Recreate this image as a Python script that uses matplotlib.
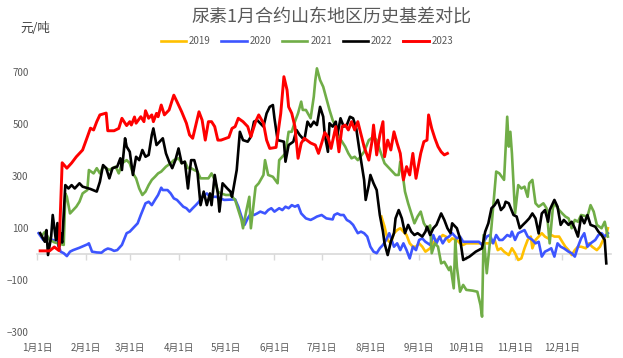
import matplotlib
matplotlib.use("Agg")
import matplotlib.pyplot as plt
import matplotlib.dates as mdates
import pandas as pd

plt.rcParams['font.family'] = ['Noto Sans CJK SC', 'DejaVu Sans']

title = "尿素1月合约山东地区历史基差对比"
unit = "元/吨"
series_names = ["2019", "2020", "2021", "2022", "2023"]
month_labels = ["1月1日", "2月1日", "3月1日", "4月1日", "5月1日", "6月1日",
                "7月1日", "8月1日", "9月1日", "10月1日", "11月1日", "12月1日"]
y_ticks = [-300, -100, 100, 300, 500, 700]

dates_2019 = ["08-08", "08-10", "08-12", "08-14", "08-16", "08-18", "08-20", "08-22", "08-24", "08-26",
              "08-28", "08-30", "09-01", "09-03", "09-05", "09-08", "09-10", "09-12", "09-14", "09-16",
              "09-18", "09-20", "09-22", "09-25", "09-27", "09-29", "10-01", "10-05", "10-09", "10-14",
              "10-16", "10-19", "10-21", "10-23", "10-25", "10-28", "10-30", "11-01", "11-03", "11-05",
              "11-07", "11-09", "11-11", "11-12", "11-14", "11-16", "11-18", "11-20", "11-22", "11-24",
              "11-26", "11-29", "12-01", "12-03", "12-05", "12-07", "12-09", "12-11", "12-13", "12-16",
              "12-18", "12-20", "12-23", "12-25", "12-27", "12-29", "12-30"]
values_2019 = [144, 105, 54, 41, 80, 92, 99, 86, 73, 41,
               28, 28, 41, 28, 9, 22, 45, 54, 60, 73,
               67, 47, 60, 54, 41, 35, 41, 41, 41, 41,
               41, 54, 15, 22, 9, -4, 22, 3, -23, -17,
               22, 54, 67, 22, 54, 67, 80, 67, 60, 73,
               67, 67, 47, 28, 15, -4, 15, 28, 28, 22,
               41, 28, 15, 28, 54, 73, 99]

dates_2020 = ["01-02", "01-05", "01-08", "01-11", "01-14", "01-16", "01-18", "01-20", "01-22", "01-24",
              "01-28", "02-02", "02-03", "02-05", "02-08", "02-11", "02-13", "02-15", "02-17", "02-19",
              "02-21", "02-24", "02-27", "03-01", "03-03", "03-06", "03-08", "03-11", "03-13", "03-15",
              "03-17", "03-19", "03-21", "03-22", "03-25", "03-27", "03-29", "03-31", "04-02", "04-04",
              "04-06", "04-08", "04-10", "04-12", "04-14", "04-16", "04-19", "04-21", "04-25", "04-30",
              "05-07", "05-09", "05-11", "05-13", "05-15", "05-17", "05-19", "05-21", "05-23", "05-26",
              "05-28", "05-30", "06-01", "06-04", "06-06", "06-08", "06-10", "06-12", "06-14", "06-16",
              "06-18", "06-21", "06-24", "06-26", "06-28", "07-01", "07-04", "07-08", "07-09", "07-11",
              "07-13", "07-15", "07-17", "07-19", "07-21", "07-24", "07-26", "07-28", "07-30", "08-01",
              "08-03", "08-05", "08-07", "08-09", "08-11", "08-13", "08-16", "08-18", "08-20", "08-22",
              "08-24", "08-26", "08-28", "08-30", "09-01", "09-03", "09-05", "09-08", "09-10", "09-12",
              "09-14", "09-16", "09-18", "09-20", "09-22", "09-25", "09-27", "09-29", "10-03", "10-09",
              "10-11", "10-14", "10-16", "10-18", "10-20", "10-22", "10-24", "10-27", "10-29", "10-30",
              "11-01", "11-03", "11-05", "11-07", "11-09", "11-12", "11-14", "11-16", "11-18", "11-20",
              "11-22", "11-24", "11-26", "11-28", "11-30", "12-02", "12-05", "12-07", "12-09", "12-11",
              "12-13", "12-15", "12-17", "12-19", "12-22", "12-24", "12-26", "12-28", "12-30"]
values_2020 = [80, 54, 60, 54, 47, 9, 3, -8, 9, 15,
               24, 37, 41, 9, 6, 5, 15, 21, 18, 12,
               15, 35, 80, 86, 99, 118, 150, 195, 201, 188,
               208, 227, 255, 246, 246, 233, 214, 208, 195, 182,
               176, 163, 176, 188, 201, 220, 233, 220, 220, 208,
               210, 182, 144, 112, 137, 156, 150, 156, 163, 156,
               169, 176, 163, 176, 169, 182, 176, 188, 182, 188,
               156, 137, 131, 137, 144, 150, 137, 133, 150, 156,
               150, 150, 131, 124, 112, 80, 86, 80, 67, 28,
               9, 3, 22, 35, 54, 80, 28, 41, 15, 41,
               15, -17, 28, 15, 54, 60, 47, 35, 73, 41,
               67, 41, 60, 67, 80, 60, 67, 47, 47, 47,
               35, 67, 73, 41, 73, 54, 54, 73, 67, 86,
               54, 80, 86, 92, 67, 54, 41, 47, -10, 9,
               15, 22, -10, 41, 28, 22, 9, 3, -10, 28,
               60, 80, 28, 41, 54, 73, 80, 67, 80]

dates_2021 = ["01-04", "01-06", "01-09", "01-12", "01-15", "01-18", "01-19", "01-20", "01-22", "01-24",
              "01-26", "01-28", "01-30", "02-02", "02-03", "02-06", "02-08", "02-10", "02-12", "02-16",
              "02-18", "02-20", "02-22", "02-24", "02-27", "03-01", "03-03", "03-05", "03-07", "03-09",
              "03-11", "03-13", "03-15", "03-17", "03-19", "03-21", "03-24", "03-27", "03-29", "04-01",
              "04-03", "04-05", "04-07", "04-09", "04-11", "04-13", "04-15", "04-17", "04-20", "04-22",
              "04-24", "04-26", "04-28", "05-01", "05-04", "05-07", "05-09", "05-11", "05-12", "05-14",
              "05-16", "05-17", "05-19", "05-20", "05-22", "05-25", "05-26", "05-28", "05-31", "06-03",
              "06-04", "06-06", "06-08", "06-10", "06-12", "06-14", "06-16", "06-18", "06-19", "06-21",
              "06-24", "06-26", "06-27", "06-28", "06-30", "07-02", "07-04", "07-06", "07-08", "07-10",
              "07-12", "07-16", "07-18", "07-20", "07-22", "07-24", "07-28", "07-31", "08-03", "08-05",
              "08-07", "08-10", "08-14", "08-17", "08-19", "08-20", "08-22", "08-23", "08-25", "08-27",
              "08-29", "08-31", "09-02", "09-04", "09-06", "09-08", "09-09", "09-11", "09-13", "09-15",
              "09-17", "09-20", "09-21", "09-23", "09-24", "09-25", "09-27", "09-29", "10-01", "10-05",
              "10-08", "10-10", "10-11", "10-12", "10-14", "10-17", "10-20", "10-22", "10-25", "10-27",
              "10-28", "10-29", "10-30", "11-01", "11-03", "11-05", "11-07", "11-09", "11-10", "11-12",
              "11-14", "11-16", "11-19", "11-21", "11-23", "11-25", "11-26", "11-29", "12-01", "12-03",
              "12-05", "12-07", "12-09", "12-11", "12-13", "12-17", "12-19", "12-21", "12-23", "12-26",
              "12-28", "12-30"]
values_2021 = [70, 85, 55, 45, 40, 35, 233, 220, 156, 169,
               182, 201, 233, 246, 323, 310, 330, 310, 336, 323,
               330, 336, 310, 349, 361, 349, 310, 291, 252, 227,
               240, 265, 285, 297, 310, 317, 336, 349, 361, 368,
               349, 355, 330, 330, 323, 317, 291, 291, 291, 310,
               285, 240, 233, 227, 227, 208, 169, 131, 99, 163,
               220, 99, 208, 259, 272, 304, 361, 304, 297, 272,
               361, 374, 387, 470, 470, 509, 541, 586, 554, 554,
               522, 605, 669, 714, 669, 643, 599, 554, 515, 490,
               451, 413, 387, 368, 374, 361, 393, 438, 451, 438,
               400, 349, 323, 304, 304, 355, 285, 240, 195, 156,
               118, 144, 163, 118, 99, 110, 3, 41, 28, -36,
               -30, -62, -49, -132, 54, -49, -145, -119, -138, -141,
               -145, -196, -241, 73, -74, 105, 317, 310, 285, 528,
               413, 470, 387, 156, 265, 252, 259, 220, 272, 285,
               195, 182, 195, 176, 41, 176, 195, 169, 156, 144,
               137, 99, 131, 124, 150, 144, 188, 163, 112, 99,
               124, 67]

dates_2022 = ["01-03", "01-06", "01-07", "01-08", "01-10", "01-11", "01-13", "01-14", "01-15", "01-16",
              "01-17", "01-19", "01-21", "01-23", "01-25", "01-28", "01-30", "02-04", "02-08", "02-10",
              "02-12", "02-14", "02-15", "02-16", "02-18", "02-21", "02-23", "02-24", "02-26", "02-27",
              "03-01", "03-03", "03-05", "03-07", "03-09", "03-11", "03-13", "03-15", "03-16", "03-18",
              "03-20", "03-22", "03-24", "03-26", "03-28", "03-30", "04-01", "04-03", "04-05", "04-07",
              "04-08", "04-09", "04-11", "04-13", "04-15", "04-17", "04-19", "04-21", "04-22", "04-24",
              "04-26", "04-27", "04-29", "05-02", "05-04", "05-05", "05-08", "05-10", "05-12", "05-15",
              "05-17", "05-19", "05-21", "05-25", "05-27", "05-29", "05-31", "06-01", "06-03", "06-07",
              "06-08", "06-10", "06-13", "06-15", "06-17", "06-20", "06-22", "06-24", "06-26", "06-28",
              "06-30", "07-02", "07-03", "07-05", "07-06", "07-08", "07-10", "07-11", "07-13", "07-15",
              "07-17", "07-19", "07-21", "07-23", "07-25", "07-28", "07-29", "07-31", "08-01", "08-03",
              "08-05", "08-07", "08-09", "08-10", "08-12", "08-14", "08-16", "08-17", "08-19", "08-21",
              "08-23", "08-25", "08-27", "08-29", "08-31", "09-03", "09-05", "09-06", "09-08", "09-10",
              "09-12", "09-15", "09-17", "09-19", "09-21", "09-22", "09-25", "09-27", "09-29", "10-03",
              "10-07", "10-11", "10-13", "10-15", "10-17", "10-19", "10-21", "10-23", "10-25", "10-26",
              "10-28", "10-31", "11-02", "11-04", "11-06", "11-08", "11-10", "11-12", "11-14", "11-16",
              "11-18", "11-20", "11-22", "11-23", "11-26", "11-28", "11-30", "12-02", "12-05", "12-07",
              "12-09", "12-11", "12-13", "12-15", "12-17", "12-19", "12-22", "12-24", "12-26", "12-28",
              "12-29"]
values_2022 = [80, 47, 92, -4, 67, 150, 54, 119, 28, 80,
               44, 265, 252, 265, 252, 272, 259, 250, 240, 278,
               342, 330, 310, 291, 330, 336, 368, 323, 445, 413,
               393, 304, 374, 361, 400, 374, 381, 458, 483, 419,
               432, 445, 387, 355, 330, 361, 406, 349, 355, 252,
               310, 361, 361, 317, 188, 240, 188, 233, 188, 304,
               233, 163, 272, 252, 240, 220, 323, 470, 438, 432,
               451, 509, 515, 490, 541, 566, 573, 522, 438, 432,
               355, 419, 432, 477, 458, 438, 509, 490, 509, 496,
               566, 528, 458, 393, 503, 490, 509, 458, 522, 490,
               496, 528, 522, 483, 400, 285, 208, 265, 304, 272,
               246, 150, 86, 41, -4, 47, 80, 137, 169, 137,
               80, 112, 86, 73, 80, 67, 86, 105, 73, 99,
               112, 156, 131, 99, 80, 118, 99, 60, -23, -10,
               9, 22, 86, 118, 176, 188, 208, 169, 182, 201,
               195, 150, 144, 99, 112, 124, 137, 156, 137, 79,
               156, 169, 124, 169, 208, 182, 112, 131, 112, 124,
               99, 67, 144, 118, 150, 112, 105, 86, 73, 54,
               -36]

dates_2023 = ["01-03", "01-09", "01-12", "01-15", "01-17", "01-20", "01-23", "01-26", "01-30", "02-02",
              "02-04", "02-06", "02-08", "02-10", "02-14", "02-15", "02-19", "02-22", "02-24", "02-26",
              "02-27", "03-01", "03-02", "03-04", "03-05", "03-08", "03-10", "03-11", "03-13", "03-15",
              "03-16", "03-18", "03-19", "03-21", "03-23", "03-26", "03-29", "03-31", "04-03", "04-06",
              "04-08", "04-10", "04-14", "04-16", "04-18", "04-20", "04-22", "04-24", "04-26", "04-28",
              "05-03", "05-05", "05-07", "05-09", "05-12", "05-15", "05-17", "05-20", "05-22", "05-25",
              "05-27", "05-29", "06-02", "06-05", "06-07", "06-09", "06-10", "06-12", "06-14", "06-16",
              "06-18", "06-20", "06-24", "06-27", "06-29", "07-01", "07-03", "07-05", "07-07", "07-10",
              "07-12", "07-14", "07-16", "07-18", "07-20", "07-22", "07-24", "07-28", "07-31", "08-02",
              "08-03", "08-05", "08-07", "08-09", "08-10", "08-12", "08-14", "08-16", "08-18", "08-20",
              "08-22", "08-24", "08-26", "08-28", "08-30", "09-02", "09-04", "09-06", "09-07", "09-09",
              "09-11", "09-13", "09-15", "09-17", "09-19"]
values_2023 = [12, 12, 27, 13, 351, 330, 350, 374, 400, 450,
               484, 477, 509, 535, 542, 474, 474, 483, 522, 503,
               494, 509, 496, 527, 503, 528, 509, 551, 522, 535,
               509, 541, 528, 573, 535, 554, 611, 586, 547, 503,
               458, 445, 547, 515, 438, 509, 509, 490, 438, 438,
               449, 483, 490, 522, 509, 490, 451, 509, 535, 503,
               438, 406, 410, 541, 682, 631, 566, 541, 490, 368,
               426, 445, 427, 419, 387, 426, 467, 451, 406, 490,
               393, 490, 496, 477, 509, 477, 509, 413, 361, 432,
               496, 381, 458, 509, 374, 438, 400, 470, 426, 387,
               285, 336, 304, 387, 291, 387, 432, 438, 535, 483,
               445, 413, 393, 381, 387]

colors = ["#FFC000", "#3D55FF", "#70AD47", "#000000", "#FF0000"]
all_dates = [dates_2019, dates_2020, dates_2021, dates_2022, dates_2023]
all_values = [values_2019, values_2020, values_2021, values_2022, values_2023]

BASE_YEAR = 2023


def to_dt(md):
    return pd.to_datetime([f"{BASE_YEAR}-{d}" for d in md])


W, H = 623, 358
fig = plt.figure(figsize=(W / 100, H / 100), dpi=100)
ax = fig.add_axes([37 / W, 1 - 332 / H, (611 - 37) / W, (332 - 59) / H])

for name, d, v, c in zip(series_names, all_dates, all_values, colors):
    lw = 2.1 if name == "2023" else 1.9
    ax.plot(to_dt(d), v, color=c, lw=lw, label=name, solid_joinstyle="round")

ax.set_ylim(-300, 750)
ax.set_xlim(pd.Timestamp(f"{BASE_YEAR}-01-01"), pd.Timestamp(f"{BASE_YEAR + 1}-01-01"))
ax.set_yticks(y_ticks)
ax.tick_params(axis="y", length=0, pad=6, labelsize=7, labelcolor="#595959")

month_ticks = pd.date_range(f"{BASE_YEAR}-01-01", periods=12, freq="MS")
for s in ["top", "right", "left"]:
    ax.spines[s].set_visible(False)
ax.spines["bottom"].set_position(("data", 0))
ax.spines["bottom"].set_color("#D9D9D9")
ax.spines["bottom"].set_linewidth(1.2)
ax.spines["bottom"].set_zorder(0)
ax.set_xticks(month_ticks)
ax.tick_params(axis="x", direction="out", length=4, width=1, color="#D9D9D9", labelbottom=False)

sec = ax.secondary_xaxis("bottom")
sec.set_xticks(month_ticks)
sec.set_xticklabels(month_labels)
sec.tick_params(axis="x", length=0, pad=8, labelsize=7, labelcolor="#595959")
sec.spines["bottom"].set_visible(False)

fig.text(331 / W, 1 - 17 / H, title, ha="center", va="center", fontsize=13, color="#595959")
fig.text(20 / W, 1 - 28 / H, unit, ha="left", va="center", fontsize=9, color="#404040")

fig.legend(loc="center", bbox_to_anchor=(307 / W, 1 - 41 / H), ncol=5, frameon=False,
           fontsize=7, labelcolor="#595959", handlelength=2.6, handletextpad=0.3,
           columnspacing=1.1, borderaxespad=0)

fig.savefig("out.png", dpi=100)
